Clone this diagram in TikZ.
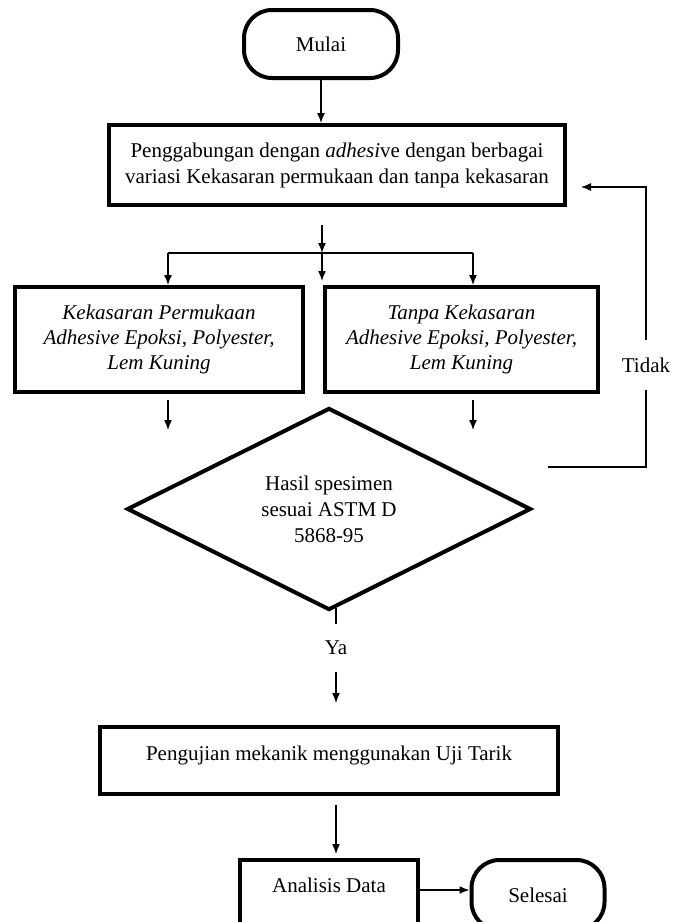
\documentclass[tikz,border=0pt]{standalone}
\usepackage{fontspec}
\setmainfont{Liberation Serif}
\usetikzlibrary{shapes.geometric,arrows.meta}
\tikzset{>={Latex[length=5pt,width=4pt]}}
\tikzset{
    proses/.style={draw,line width=2pt,align=center,inner sep=0pt},
    ujung/.style={draw,line width=2pt,rounded corners=14pt,inner sep=0pt},
    keputusan/.style={draw,diamond,line width=2pt,align=center,inner sep=0pt},
    miring/.style={font=\fontsize{10.5}{12.5}\selectfont\itshape},
    panah/.style={->,line width=0.7pt}
}

\begin{document}
\begin{tikzpicture}[x=0.5pt,y=-0.5pt,font=\fontsize{10.5}{13}\selectfont]
    \clip (0,0) rectangle (678,922);

    \node[ujung,minimum width=77pt,minimum height=34pt] (mulai) at (321,44) {Mulai};
    \node[proses,minimum width=228pt,minimum height=40pt] (gabung) at (337,165)
        {Penggabungan dengan \textit{adhesi}ve dengan berbagai\\variasi Kekasaran permukaan dan tanpa kekasaran};
    \node[proses,miring,minimum width=144pt,minimum height=52.5pt] (kasar) at (159,339.5)
        {Kekasaran Permukaan\\Adhesive Epoksi, Polyester,\\Lem Kuning};
    \node[proses,miring,minimum width=136.5pt,minimum height=52.5pt] (tanpa) at (461.5,339.5)
        {Tanpa Kekasaran\\Adhesive Epoksi, Polyester,\\Lem Kuning};
    \node[keputusan,minimum width=202pt,minimum height=96pt] (hasil) at (329,509)
        {Hasil spesimen\\sesuai ASTM D\\5868-95};
    \node[inner xsep=0pt,inner ysep=8.5pt] (tidak) at (646,365) {Tidak};
    \node[inner xsep=0pt,inner ysep=8.25pt] (ya) at (336,648) {Ya};
    \node[proses,minimum width=229pt,minimum height=33.5pt,text depth=7pt] (uji) at (329,760.5)
        {Pengujian mekanik menggunakan Uji Tarik};
    \node[proses,minimum width=89pt,minimum height=40pt,text depth=15pt] (analisis) at (329,900)
        {Analisis Data};
    \node[ujung,minimum width=66.5pt,minimum height=35pt] (selesai) at (538,895) {Selesai};

    % percabangan
    \coordinate (cabang) at (322,253);
    \coordinate (kiri) at (168,253);
    \coordinate (kanan) at (473,253);
    \coordinate (balik) at (548,467);

    \draw[panah] (mulai) -- (mulai |- gabung.north);
    \draw[panah,shorten <=9pt] (gabung.south -| cabang) -- (cabang);
    \draw[line width=0.7pt] (kiri) -- (kanan);
    \draw[panah] (kiri) -- (kiri |- kasar.north);
    \draw[panah,shorten >=2pt] (cabang) -- (cabang |- tanpa.north);
    \draw[panah] (kanan) -- (kanan |- tanpa.north);
    \draw[panah,shorten <=3pt] (kiri |- kasar.south) -- +(0,36);
    \draw[panah,shorten <=3pt] (kanan |- tanpa.south) -- +(0,36);

    % kembali bila tidak sesuai
    \draw[line width=0.6pt] (balik) -- (balik -| tidak) -- (tidak.south);
    \draw[panah,line width=0.6pt,shorten >=7pt] (tidak.north) -- (tidak |- 0,187) -- (gabung.east |- 0,187);

    \draw[line width=0.7pt] ([yshift=2pt]ya.north |- hasil.south) -- (ya.north);
    \draw[panah,shorten >=11pt] (ya) -- (ya |- uji.north);
    \draw[panah,shorten <=4.5pt,shorten >=2pt] (ya |- uji.south) -- (ya |- analisis.north);
    \draw[panah] (analisis.east |- 0,890) -- (selesai.west |- 0,890);
\end{tikzpicture}
\end{document}
